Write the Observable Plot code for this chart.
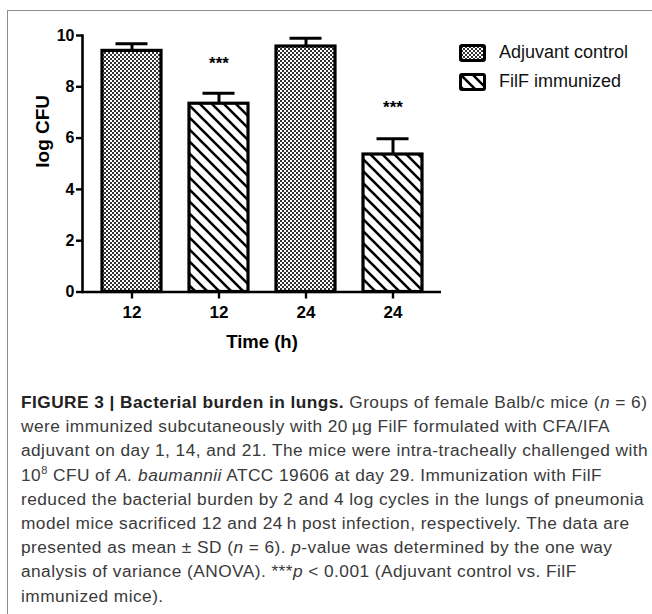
<!DOCTYPE html>
<html>
<head>
<meta charset="utf-8">
<script src="https://cdn.jsdelivr.net/npm/d3@7"></script>
<script src="https://cdn.jsdelivr.net/npm/@observablehq/plot@0.6"></script>
<style>
  html, body { margin: 0; padding: 0; background: #fff; overflow: hidden; }
  #page { position: relative; width: 652px; height: 614px; }
  #frame { position: absolute; left: 7px; top: 10px; width: 700px; height: 700px;
           border-top: 1.5px solid #8c8c8c; border-left: 1.5px solid #8c8c8c; }
  #chart { position: absolute; left: 0; top: 0; }
  #legend { position: absolute; left: 459px; top: 38px; font-family: "Liberation Sans", Arial, sans-serif; font-size: 18px; color: #111; }
  .lg { display: flex; align-items: center; height: 29px; }
  .lg svg { margin-right: 13px; }
  #caption { position: absolute; left: 21px; top: 390px; width: 640px;
             font-family: "Liberation Sans", Arial, sans-serif; font-size: 17.3px; letter-spacing: 0.45px; line-height: 24.2px; color: #3a3a3a; white-space: nowrap; }
  #caption b { color: #222; }
  #caption sup { font-size: 11px; vertical-align: 7px; line-height: 0; }
</style>
</head>
<body>
<div id="page">
  <div id="frame"></div>
  <div id="chart"></div>
  <div id="legend"></div>
  <div id="caption"></div>
</div>
<script>
// ---- data ----
const keys   = ["c12", "f12", "c24", "f24"];
const groups = ["Adjuvant control", "FilF immunized", "Adjuvant control", "FilF immunized"];
const times  = ["12", "12", "24", "24"];
const means  = [9.40, 7.34, 9.57, 5.36];
const sds    = [0.28, 0.41, 0.32, 0.61];
const stars  = ["", "***", "", "***"];
const starAt = [null, 9.08, null, 7.36];
const yTicks = [0, 2, 4, 6, 8, 10];
const seriesNames = ["Adjuvant control", "FilF immunized"];
const xTitle = "Time (h)";
const yTitle = "log CFU";

const rows = keys.map((k, i) => ({key: k, group: groups[i], time: times[i], mean: means[i], sd: sds[i], top: means[i] + sds[i]}));
const starRows = keys.map((k, i) => ({key: k, label: stars[i], y: starAt[i]})).filter(d => d.label);

const fillFor = {"Adjuvant control": "url(#pat-check)", "FilF immunized": "url(#pat-diag)"};

function patternDefs() {
  const g = d3.create("svg:g");
  const defs = g.append("defs");
  const c = defs.append("pattern").attr("id", "pat-check").attr("patternUnits", "userSpaceOnUse")
    .attr("width", 4).attr("height", 4);
  c.append("rect").attr("width", 4).attr("height", 4).attr("fill", "#fff");
  c.append("rect").attr("width", 2).attr("height", 2).attr("fill", "#333");
  c.append("rect").attr("x", 2).attr("y", 2).attr("width", 2).attr("height", 2).attr("fill", "#333");
  const d = defs.append("pattern").attr("id", "pat-diag").attr("patternUnits", "userSpaceOnUse")
    .attr("width", 12).attr("height", 12);
  d.append("rect").attr("width", 12).attr("height", 12).attr("fill", "#fff");
  d.append("path").attr("d", "M0,0L12,12M-6,6L6,18M6,-6L18,6").attr("stroke", "#000").attr("stroke-width", 2.6);
  return g.node();
}

const font = "Liberation Sans, Arial, sans-serif";

const chart = Plot.plot({
  width: 652,
  height: 370,
  marginLeft: 82,
  marginRight: 211,
  marginTop: 35,
  marginBottom: 78.5,
  style: {fontFamily: font, color: "#000", background: "transparent"},
  x: {type: "band", domain: keys, paddingInner: 0.325, paddingOuter: 0.22},
  y: {domain: [0, 10]},
  marks: [
    patternDefs,
    Plot.barY(rows, {x: "key", y: "mean", fill: d => fillFor[d.group], stroke: "#000", strokeWidth: 3.2}),
    Plot.ruleX(rows, {x: "key", y1: "mean", y2: "top", stroke: "#000", strokeWidth: 3}),
    Plot.tickY(rows, {x: "key", y: "top", stroke: "#000", strokeWidth: 3, insetLeft: 13.5, insetRight: 13.5}),
    Plot.text(starRows, {x: "key", y: "y", text: "label", fontSize: 17, fontWeight: "bold", dy: 4}),
    Plot.ruleY([0], {stroke: "#000", strokeWidth: 2.6}),
    Plot.frame({anchor: "left", stroke: "#000", strokeWidth: 2.6}),
    Plot.axisY({ticks: yTicks, tickSize: 6, tickPadding: 2, strokeWidth: 2.4, fontSize: 16, fontWeight: "bold", label: null}),
    Plot.axisX({tickFormat: (k) => times[keys.indexOf(k)], tickSize: 7, tickPadding: 7, strokeWidth: 2.4, fontSize: 17, fontWeight: "bold", label: null}),
    Plot.text([xTitle], {frameAnchor: "bottom", dy: 56, fontSize: 18.5, fontWeight: "bold"}),
    Plot.text([yTitle], {frameAnchor: "left", dx: -40, dy: 4, rotate: -90, fontSize: 19, fontWeight: "bold"})
  ]
});
document.getElementById("chart").appendChild(chart);

// legend
const legend = document.getElementById("legend");
seriesNames.forEach(name => {
  const row = document.createElement("div");
  row.className = "lg";
  row.innerHTML = `<svg width="27" height="18"><rect x="1.5" y="1.5" width="24" height="15" rx="1.5" fill="${fillFor[name]}" stroke="#000" stroke-width="3"/></svg><span>${name}</span>`;
  legend.appendChild(row);
});

// caption
document.getElementById("caption").innerHTML =
  '<b>FIGURE 3 | Bacterial burden in lungs.</b> Groups of female Balb/c mice (<i>n</i> = 6)<br>' +
  'were immunized subcutaneously with 20\u2009\u00b5g FilF formulated with CFA/IFA<br>' +
  'adjuvant on day 1, 14, and 21. The mice were intra-tracheally challenged with<br>' +
  '10<sup>8</sup> CFU of <i>A. baumannii</i> ATCC 19606 at day 29. Immunization with FilF<br>' +
  'reduced the bacterial burden by 2 and 4 log cycles in the lungs of pneumonia<br>' +
  'model mice sacrificed 12 and 24\u2009h post infection, respectively. The data are<br>' +
  'presented as mean \u00b1 SD (<i>n</i> = 6). <i>p</i>-value was determined by the one way<br>' +
  'analysis of variance (ANOVA). ***<i>p</i> &lt; 0.001 (Adjuvant control vs. FilF<br>' +
  'immunized mice).';
</script>
</body>
</html>
